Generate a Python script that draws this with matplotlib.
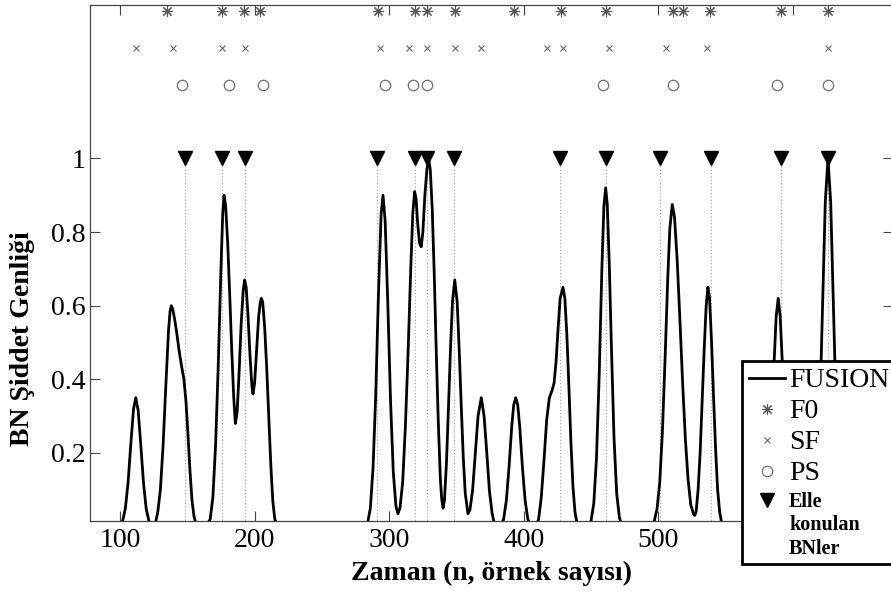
import matplotlib
matplotlib.use('Agg')
import matplotlib.pyplot as plt
from matplotlib.lines import Line2D
from matplotlib.patches import Rectangle

plt.rcParams['font.family'] = ['Liberation Serif', 'DejaVu Serif']

# ---- data ----
fusion_x = [78, 100, 102, 104, 106, 108, 110, 111.7, 113.5, 115.5, 117.5, 119.5, 121.5, 124,
            125, 126.5, 128, 130, 132, 134, 136, 137.2, 138.1, 139.2, 140.5, 142, 144, 146, 147.5,
            149, 150.5, 152, 153.5, 155, 157,
            164, 167, 169, 171, 173, 175, 176.3, 177.3, 178.5, 180, 181.5, 183, 184.5, 185.7, 187,
            188.5, 190, 191.5, 192.6, 193.7, 195, 196.5, 198, 198.8, 200, 201.5, 203, 204.2, 205,
            206, 207.5, 209, 210.5, 212, 213.5, 215, 217,
            282, 284, 286, 288, 290, 292, 294, 295.4, 297, 299, 301, 303, 305, 306.5, 308, 310, 312,
            314, 316, 317.5, 318.9, 320, 321, 322.5, 323.8, 325, 326.5, 328, 329.3, 330.5, 332,
            333.5, 335, 336.5, 338, 339, 340, 341, 342.5, 344, 345.5, 347, 348.7, 350.5, 352,
            353.5, 355, 356.5, 358.5, 360, 362, 364, 366, 368.4, 370.5, 372.5, 374.5, 376.5, 378, 380,
            383, 385, 387, 389, 391, 392.5, 394, 395.5, 397, 399, 401, 403, 405,
            409, 411, 413, 415, 417, 419, 421, 422.5, 424, 425.5, 427, 429.1, 430.5, 432, 433.5,
            435, 436.5, 438, 439.5, 441,
            448, 450, 452, 454, 456, 458, 459.5, 460.8, 462, 463.5, 465, 467, 469, 471, 473,
            495, 497, 499, 501, 503, 505, 507, 508.5, 510.3, 512, 514, 516, 518, 520, 522, 524, 526,
            527, 528, 529.5, 531, 532.5, 534, 535.5, 536.8, 538, 539.5, 541, 542.5, 544, 545.5, 547, 549,
            578, 580, 582, 584, 586, 587.5, 589, 590.5, 592, 594, 596, 598, 600,
            614, 616, 618, 620, 622, 624, 626, 628, 630, 632, 634, 636, 638, 675]
fusion_y = [0, 0, 0.016, 0.05, 0.12, 0.223, 0.318, 0.35, 0.315, 0.218, 0.116, 0.047, 0.015, 0,
            0, 0.012, 0.038, 0.10, 0.22, 0.38, 0.53, 0.585, 0.60, 0.59, 0.565, 0.53, 0.475, 0.43, 0.40,
            0.34, 0.25, 0.15, 0.07, 0.027, 0,
            0, 0.02, 0.08, 0.22, 0.44, 0.70, 0.85, 0.90, 0.87, 0.77, 0.63, 0.48, 0.35, 0.28, 0.31,
            0.42, 0.55, 0.64, 0.67, 0.65, 0.58, 0.47, 0.38, 0.36, 0.39, 0.48, 0.57, 0.61, 0.62,
            0.61, 0.54, 0.43, 0.30, 0.17, 0.07, 0.02, 0,
            0, 0.01, 0.05, 0.16, 0.36, 0.63, 0.85, 0.90, 0.83, 0.60, 0.34, 0.15, 0.055, 0.035, 0.05, 0.12, 0.27,
            0.47, 0.70, 0.85, 0.91, 0.89, 0.83, 0.77, 0.76, 0.80, 0.90, 0.97, 1.0, 0.97, 0.86,
            0.68, 0.47, 0.28, 0.13, 0.075, 0.05, 0.07, 0.17, 0.32, 0.48, 0.61, 0.67, 0.61, 0.48,
            0.33, 0.19, 0.09, 0.035, 0.045, 0.10, 0.20, 0.30, 0.35, 0.30, 0.20, 0.095, 0.035, 0.01, 0,
            0, 0.02, 0.07, 0.16, 0.27, 0.33, 0.35, 0.33, 0.27, 0.16, 0.07, 0.02, 0,
            0, 0.02, 0.08, 0.18, 0.29, 0.35, 0.37, 0.39, 0.45, 0.54, 0.62, 0.65, 0.62, 0.52, 0.38,
            0.23, 0.11, 0.04, 0.01, 0,
            0, 0.016, 0.063, 0.186, 0.41, 0.70, 0.87, 0.92, 0.875, 0.715, 0.50, 0.243, 0.09, 0.025, 0,
            0, 0.016, 0.048, 0.12, 0.26, 0.46, 0.68, 0.81, 0.875, 0.84, 0.72, 0.56, 0.39, 0.24, 0.13, 0.06, 0.035,
            0.03, 0.04, 0.10, 0.20, 0.34, 0.48, 0.60, 0.65, 0.62, 0.50, 0.35, 0.21, 0.10, 0.04, 0.01, 0,
            0, 0.03, 0.11, 0.26, 0.45, 0.57, 0.62, 0.57, 0.45, 0.26, 0.11, 0.03, 0,
            0, 0.044, 0.135, 0.325, 0.607, 0.882, 1.0, 0.882, 0.607, 0.325, 0.135, 0.044, 0, 0]

f0_x = [135, 176, 192, 204, 292, 319, 328, 349, 393, 428, 461, 511, 518, 538, 591, 626]
sf_x = [112, 139, 176, 193, 293, 315, 328, 349, 368, 417, 429, 463, 506, 536, 626]
ps_x = [146, 181, 206, 297, 318, 328, 459, 511, 588, 626]
manual_x = [148, 176, 193, 291, 319, 328, 348, 427, 461, 501, 539, 591, 626]
f0_level = 1.4
sf_level = 1.3
ps_level = 1.2
manual_level = 1.0

xticks = [100, 200, 300, 400, 500, 600]
xtick_labels = ['100', '200', '300', '400', '500', '']   # 600 lies under the legend box
yticks = [0.2, 0.4, 0.6, 0.8, 1.0]
ytick_labels = ['0.2', '0.4', '0.6', '0.8', '1']

labels_main = ['FUSION', 'F0', 'SF', 'PS']
labels_manual = ['Elle', 'konulan', 'BNler']

# ---- figure ----
W, H = 891, 592
fig = plt.figure(figsize=(W / 100, H / 100), dpi=100)
ax = fig.add_axes([90 / W, 1 - 521 / H, (893 - 90) / W, (521 - 5) / H])

x_lo, x_hi = 77.7, 674.3
y_lo, y_hi = 0.015, 1.417

ast = (8, 2, 0)
f0_style = dict(linestyle='none', marker=ast, markersize=8, markeredgecolor='#555555',
                markeredgewidth=0.8)
sf_style = dict(linestyle='none', marker='x', markersize=5, markeredgecolor='#666666',
                markeredgewidth=0.8)
ps_style = dict(linestyle='none', marker='o', markersize=7.5, markerfacecolor='none',
                markeredgecolor='#707070', markeredgewidth=0.9)
man_style = dict(linestyle='none', marker='v', markersize=9.5, markerfacecolor='black',
                 markeredgecolor='black')

ax.vlines(manual_x, 0, manual_level, colors='#9a9a9a', linestyles=(0, (1, 2)),
          linewidth=0.8, zorder=1)
ax.plot(fusion_x, fusion_y, color='black', linewidth=2.0, zorder=3)
ax.plot(f0_x, [f0_level] * len(f0_x), zorder=4, **f0_style)
ax.plot(sf_x, [sf_level] * len(sf_x), zorder=4, **sf_style)
ax.plot(ps_x, [ps_level] * len(ps_x), zorder=4, **ps_style)
ax.plot(manual_x, [manual_level] * len(manual_x), zorder=5, **man_style)

ax.set_xlim(x_lo, x_hi)
ax.set_ylim(y_lo, y_hi)
ax.set_xticks(xticks)
ax.set_xticklabels(xtick_labels)
ax.set_yticks(yticks)
ax.set_yticklabels(ytick_labels)
ax.tick_params(direction='in', length=7, width=0.8, top=True, right=True,
               labelsize=20, color='#444444')
ax.tick_params(axis='x', pad=5)
ax.tick_params(axis='y', pad=3)
for s in ax.spines.values():
    s.set_linewidth(0.9)
    s.set_color('#444444')

ax.set_xlabel('Zaman (n, örnek sayısı)', fontsize=20, fontweight='bold')
ax.set_ylabel('BN Şiddet Genliği', fontsize=20, fontweight='bold')
ax.yaxis.set_label_coords(-0.069, 0.353)
ax.xaxis.set_label_coords(0.5, -0.077)

# ---- legend: frame + two frameless legends ----
frame = Rectangle((742 / W, 1 - 564 / H), (900 - 742) / W, (564 - 361) / H,
                  transform=fig.transFigure, facecolor='white', edgecolor='black',
                  linewidth=2.0, zorder=3)
fig.add_artist(frame)

h_main = [Line2D([], [], color='black', linewidth=2.0),
          Line2D([], [], **f0_style), Line2D([], [], **sf_style), Line2D([], [], **ps_style)]
leg1 = fig.legend(h_main, labels_main, loc='upper left',
                  bbox_to_anchor=(742 / W, 1 - 361 / H), bbox_transform=fig.transFigure,
                  borderaxespad=0, fontsize=20, frameon=False, handlelength=1.3,
                  handletextpad=0.15, labelspacing=0.2, borderpad=0.25)
leg1.set_zorder(6)

h_man = [Line2D([], [], **man_style), Line2D([], [], linestyle='none'),
         Line2D([], [], linestyle='none')]
leg2 = fig.legend(h_man, labels_manual, loc='upper left',
                  bbox_to_anchor=(749 / W, 1 - 492 / H), bbox_transform=fig.transFigure,
                  borderaxespad=0, frameon=False, handlelength=1.79, handletextpad=0.2,
                  labelspacing=0.17, borderpad=0.0,
                  prop={'family': ['Liberation Serif', 'DejaVu Serif'], 'weight': 'bold',
                        'size': 14.5})
leg2.set_zorder(6)

fig.savefig('out.png', dpi=100)
